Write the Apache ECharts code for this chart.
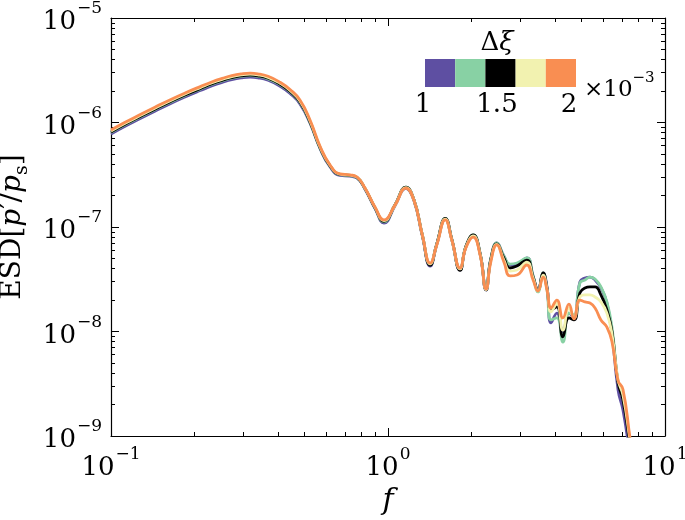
<!DOCTYPE html>
<html>
<head>
<meta charset="utf-8">
<script src="https://cdn.jsdelivr.net/npm/echarts@6/dist/echarts.min.js"></script>
<style>
  html, body { margin: 0; padding: 0; background: #fff; }
  #chart { width: 685px; height: 520px; }
</style>
</head>
<body>
<div id="chart"></div>
<script>
// frequency samples shared by every curve
const freq = [0.1, 0.112, 0.127, 0.144, 0.163, 0.185, 0.210, 0.232, 0.252, 0.273,
  0.297, 0.318, 0.339, 0.369, 0.408, 0.443, 0.481, 0.523, 0.568, 0.618,
  0.671, 0.729, 0.773, 0.826, 0.898, 0.967, 1.06, 1.16,
  1.24, 1.33, 1.42, 1.50, 1.61, 1.70, 1.82, 1.91, 2.03, 2.15,
  2.26, 2.35, 2.47, 2.62, 2.76, 2.92, 3.17, 3.34, 3.48, 3.63,
  3.75, 3.88, 4.07, 4.28, 4.50, 4.69, 4.93, 5.14, 5.36, 5.59,
  5.87, 6.17, 6.44, 6.77, 7.05, 7.47, 7.79];

// ESD for each delta-xi (x 1e-3)
const esd100 = [7.77e-7, 9.14e-7, 1.085e-6, 1.283e-6, 1.507e-6, 1.754e-6, 2.021e-6, 2.246e-6, 2.420e-6, 2.574e-6,
  2.678e-6, 2.714e-6, 2.678e-6, 2.535e-6, 2.221e-6, 1.895e-6, 1.504e-6, 9.83e-7, 5.66e-7, 3.75e-7,
  3.12e-7, 3.06e-7, 2.94e-7, 2.30e-7, 1.50e-7, 1.09e-7, 1.60e-7, 2.34e-7,
  1.79e-7, 8.2e-8, 4.22e-8, 6.8e-8, 1.19e-7, 7.5e-8, 3.88e-8, 6.4e-8, 8.3e-8, 5.5e-8,
  2.5e-8, 4.9e-8, 7.03e-8, 5.28e-8, 4.33e-8, 4.42e-8, 5.05e-8, 3.40e-8, 2.49e-8, 3.63e-8,
  2.67e-8, 1.21e-8, 1.50e-8, 9.9e-9, 1.50e-8, 1.35e-8, 2.98e-8, 3.25e-8, 3.32e-8, 3.11e-8,
  2.61e-8, 1.87e-8, 9.3e-9, 2.76e-9, 1.77e-9, 6.6e-10, 3.0e-10];
const esd125 = [8.02e-7, 9.44e-7, 1.121e-6, 1.325e-6, 1.556e-6, 1.812e-6, 2.087e-6, 2.320e-6, 2.499e-6, 2.658e-6,
  2.766e-6, 2.803e-6, 2.766e-6, 2.618e-6, 2.294e-6, 1.957e-6, 1.553e-6, 1.004e-6, 5.72e-7, 3.82e-7,
  3.17e-7, 3.11e-7, 2.97e-7, 2.33e-7, 1.52e-7, 1.12e-7, 1.63e-7, 2.40e-7,
  1.83e-7, 8.4e-8, 4.35e-8, 6.9e-8, 1.21e-7, 7.6e-8, 3.92e-8, 6.5e-8, 8.4e-8, 5.6e-8,
  2.55e-8, 5.0e-8, 7.03e-8, 5.28e-8, 4.42e-8, 4.52e-8, 5.05e-8, 3.40e-8, 2.39e-8, 3.63e-8,
  2.49e-8, 1.29e-8, 1.35e-8, 7.9e-9, 1.50e-8, 1.44e-8, 2.91e-8, 3.11e-8, 3.32e-8, 3.18e-8,
  2.67e-8, 1.92e-8, 1.08e-8, 3.29e-9, 2.31e-9, 8.8e-10, 3.8e-10];
const esd150 = [8.12e-7, 9.55e-7, 1.134e-6, 1.341e-6, 1.574e-6, 1.833e-6, 2.111e-6, 2.347e-6, 2.528e-6, 2.689e-6,
  2.798e-6, 2.836e-6, 2.798e-6, 2.648e-6, 2.321e-6, 1.980e-6, 1.571e-6, 1.015e-6, 5.78e-7, 3.85e-7,
  3.18e-7, 3.12e-7, 2.98e-7, 2.34e-7, 1.53e-7, 1.13e-7, 1.63e-7, 2.40e-7,
  1.83e-7, 8.4e-8, 4.3e-8, 6.9e-8, 1.21e-7, 7.6e-8, 3.85e-8, 6.5e-8, 8.4e-8, 5.6e-8,
  2.5e-8, 4.9e-8, 6.88e-8, 5.05e-8, 4.05e-8, 4.23e-8, 4.83e-8, 3.32e-8, 2.49e-8, 3.63e-8,
  2.61e-8, 1.61e-8, 1.72e-8, 8.9e-9, 1.35e-8, 1.29e-8, 2.34e-8, 2.61e-8, 2.67e-8, 2.67e-8,
  2.24e-8, 1.61e-8, 9.9e-9, 3.21e-9, 2.21e-9, 8.2e-10, 3.6e-10];
const esd175 = [8.29e-7, 9.76e-7, 1.159e-6, 1.370e-6, 1.609e-6, 1.873e-6, 2.157e-6, 2.398e-6, 2.584e-6, 2.748e-6,
  2.860e-6, 2.898e-6, 2.860e-6, 2.706e-6, 2.372e-6, 2.023e-6, 1.606e-6, 1.036e-6, 5.87e-7, 3.88e-7,
  3.20e-7, 3.13e-7, 3.00e-7, 2.35e-7, 1.54e-7, 1.15e-7, 1.62e-7, 2.38e-7,
  1.82e-7, 8.4e-8, 4.45e-8, 6.8e-8, 1.19e-7, 7.5e-8, 3.98e-8, 6.4e-8, 8.2e-8, 5.5e-8,
  2.52e-8, 4.75e-8, 6.8e-8, 4.83e-8, 3.79e-8, 3.88e-8, 4.62e-8, 3.25e-8, 2.44e-8, 3.47e-8,
  2.55e-8, 1.54e-8, 1.87e-8, 1.03e-8, 1.68e-8, 1.35e-8, 2.14e-8, 2.24e-8, 2.24e-8, 2.14e-8,
  1.92e-8, 1.50e-8, 9.3e-9, 3.43e-9, 2.47e-9, 9.2e-10, 4.1e-10];
const esd200 = [8.48e-7, 9.98e-7, 1.185e-6, 1.401e-6, 1.645e-6, 1.915e-6, 2.206e-6, 2.452e-6, 2.642e-6, 2.810e-6,
  2.924e-6, 2.963e-6, 2.924e-6, 2.767e-6, 2.425e-6, 2.069e-6, 1.642e-6, 1.057e-6, 5.96e-7, 3.92e-7,
  3.22e-7, 3.15e-7, 3.01e-7, 2.36e-7, 1.55e-7, 1.17e-7, 1.62e-7, 2.36e-7,
  1.81e-7, 8.4e-8, 4.52e-8, 6.73e-8, 1.17e-7, 7.5e-8, 4.05e-8, 6.3e-8, 8.0e-8, 5.4e-8,
  2.55e-8, 4.62e-8, 6.73e-8, 4.62e-8, 3.40e-8, 3.47e-8, 4.33e-8, 3.11e-8, 2.44e-8, 3.32e-8,
  2.49e-8, 1.68e-8, 2.00e-8, 1.35e-8, 1.83e-8, 1.32e-8, 2.00e-8, 1.92e-8, 1.87e-8, 1.68e-8,
  1.29e-8, 1.10e-8, 7.9e-9, 3.4e-9, 2.8e-9, 9.8e-10, 4.7e-10];

const deltaXi = [1, 1.25, 1.5, 1.75, 2];
const curves = [esd100, esd125, esd150, esd175, esd200];
const lineColors = ['#5e4fa2', '#88d1a4', '#000000', '#f2f2b0', '#f98e52'];
const colorbarLabels = ['1', '1.5', '2'];

const xMinorTicks = [];
const yMinorTicks = [];
for (let e = -1; e < 1; e++) for (let m = 2; m < 10; m++) xMinorTicks.push(m * Math.pow(10, e));
for (let e = -9; e < -5; e++) for (let m = 2; m < 10; m++) yMinorTicks.push(m * Math.pow(10, e));

const FONT = 'DejaVu Serif';
const powRich = {
  b: { fontFamily: FONT, fontSize: 26, color: '#000', verticalAlign: 'top', padding: [9, 0, 0, 0] },
  e: { fontFamily: FONT, fontSize: 17, color: '#000', verticalAlign: 'top', padding: [0, 0, 0, 1] }
};
function powLabel(v) {
  const e = Math.round(Math.log10(v));
  return '{b|10}{e|' + (e < 0 ? '\u2212' + (-e) : e) + '}';
}

const line = { show: true, lineStyle: { color: '#000', width: 1.2 } };
function logAxis(extra) {
  return Object.assign({
    type: 'log', logBase: 10,
    axisLine: line,
    splitLine: { show: false },
    axisLabel: { show: false },
    axisPointer: { show: false }
  }, extra);
}
function majorTick() { return { show: true, inside: true, length: 8, lineStyle: { color: '#000', width: 1 } }; }
function minorTick(vals) { return { show: true, inside: true, length: 4, customValues: vals, lineStyle: { color: '#000', width: 1 } }; }

const chart = echarts.init(document.getElementById('chart'));
chart.setOption({
  animation: false,
  backgroundColor: '#fff',
  grid: { left: 111, right: 20, top: 18, bottom: 84, outerBoundsMode: 'none' },
  xAxis: [
    logAxis({
      min: 0.1, max: 10, position: 'bottom',
      axisTick: majorTick(),
      axisLabel: { show: true, margin: 10, formatter: powLabel, rich: powRich },
      name: 'f', nameLocation: 'middle', nameGap: 46,
      nameTextStyle: { fontFamily: FONT, fontStyle: 'italic', fontSize: 30, color: '#000' }
    }),
    logAxis({ min: 0.1, max: 10, position: 'bottom', axisLine: { show: false }, axisTick: minorTick(xMinorTicks) }),
    logAxis({ min: 0.1, max: 10, position: 'top', axisTick: majorTick() }),
    logAxis({ min: 0.1, max: 10, position: 'top', axisLine: { show: false }, axisTick: minorTick(xMinorTicks) })
  ],
  yAxis: [
    logAxis({
      min: 1e-9, max: 1e-5, position: 'left',
      axisTick: majorTick(),
      axisLabel: { show: true, margin: 9, formatter: powLabel, rich: powRich },
      name: '{r|ESD[}{i|p}{r|\u2032/}{i|p}{s|s}{r|]}',
      nameLocation: 'middle', nameGap: 70, nameRotate: 90,
      nameTextStyle: {
        color: '#000',
        rich: {
          r: { fontFamily: FONT, fontSize: 28, color: '#000', verticalAlign: 'top' },
          i: { fontFamily: FONT, fontSize: 28, fontStyle: 'italic', color: '#000', verticalAlign: 'top' },
          s: { fontFamily: FONT, fontSize: 19, color: '#000', verticalAlign: 'top', padding: [14, 0, 0, 0] }
        }
      }
    }),
    logAxis({ min: 1e-9, max: 1e-5, position: 'left', axisLine: { show: false }, axisTick: minorTick(yMinorTicks) }),
    logAxis({ min: 1e-9, max: 1e-5, position: 'right', axisTick: majorTick() }),
    logAxis({ min: 1e-9, max: 1e-5, position: 'right', axisLine: { show: false }, axisTick: minorTick(yMinorTicks) })
  ],
  visualMap: {
    type: 'piecewise',
    seriesIndex: [],
    orient: 'horizontal',
    left: 425, top: 59,
    padding: 0,
    itemWidth: 30.2, itemHeight: 28, itemGap: 0,
    itemSymbol: 'rect',
    showLabel: false,
    selectedMode: false,
    hoverLink: false,
    pieces: deltaXi.map((d, i) => ({ value: d, color: lineColors[i] }))
  },
  graphic: [
    {
      type: 'text', x: 497, y: 43,
      style: {
        text: '{a|\u0394}{b|\u03be}', align: 'center', verticalAlign: 'middle',
        rich: {
          a: { fontFamily: FONT, fontSize: 26, fill: '#000' },
          b: { fontFamily: FONT, fontSize: 26, fontStyle: 'italic', fill: '#000' }
        }
      }
    },
    ...colorbarLabels.map((t, i) => ({
      type: 'text', x: [423, 497, 569][i], y: 105,
      style: { text: t, font: '26px "DejaVu Serif"', fill: '#000', align: 'center', verticalAlign: 'middle' }
    })),
    {
      type: 'text', x: 584, y: 86,
      style: {
        text: '{b|\u00d710}{e|\u22123}', align: 'left', verticalAlign: 'middle',
        rich: {
          b: { fontFamily: FONT, fontSize: 23, fill: '#000', verticalAlign: 'top', padding: [8, 0, 0, 0] },
          e: { fontFamily: FONT, fontSize: 15, fill: '#000', verticalAlign: 'top' }
        }
      }
    }
  ],
  series: curves.map((c, i) => ({
    name: '\u0394\u03be = ' + deltaXi[i] + '\u00d710\u207b\u00b3',
    type: 'line',
    xAxisIndex: 0, yAxisIndex: 0,
    data: freq.map((f, j) => [f, c[j]]),
    showSymbol: false,
    symbol: 'none',
    smooth: 0.5,
    clip: true,
    lineStyle: { color: lineColors[i], width: 2.8 },
    z: 2 + i
  }))
});
</script>
</body>
</html>
